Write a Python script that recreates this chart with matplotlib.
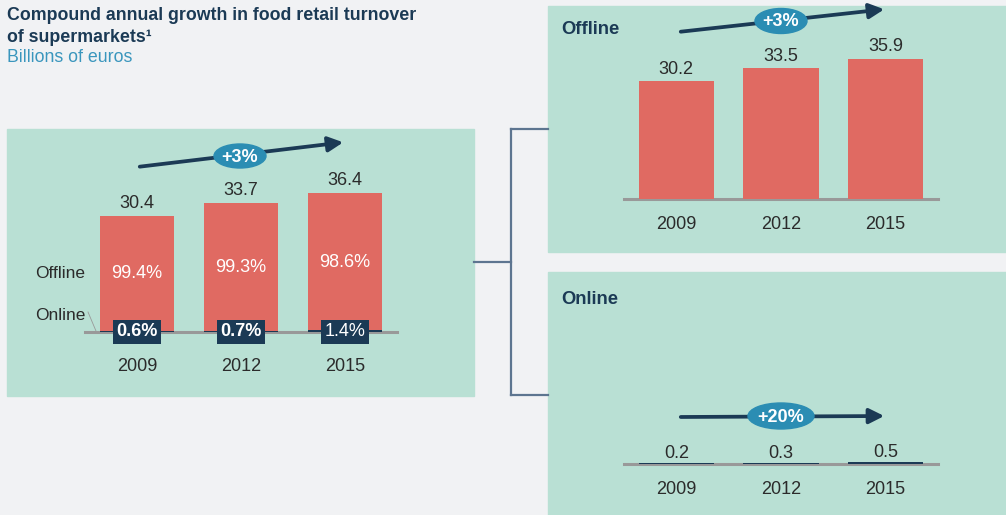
import numpy as np
import matplotlib
matplotlib.use("Agg")
import matplotlib.pyplot as plt
from matplotlib.patches import Rectangle, Ellipse, FancyArrowPatch

plt.rcParams['font.family'] = ['Liberation Sans', 'DejaVu Sans']

years = ['2009', '2012', '2015']
total = [30.4, 33.7, 36.4]
offline_share = ['99.4%', '99.3%', '98.6%']
online_share = ['0.6%', '0.7%', '1.4%']
online_share_val = [0.6, 0.7, 1.4]
offline = [30.2, 33.5, 35.9]
online = [0.2, 0.3, 0.5]

BG = '#f1f2f4'
PANEL = '#b9e0d4'
RED = '#e06a62'
NAVY = '#1b3a55'
BLUE = '#2b8db3'
GRAY = '#999999'
TXT = '#2b2b2b'

W, H = 1006, 515
fig = plt.figure(figsize=(W / 100, H / 100), dpi=100, facecolor=BG)

# overlay in pixel coordinates for panels and decorations
ov = fig.add_axes([0, 0, 1, 1])
ov.set_xlim(0, W)
ov.set_ylim(H, 0)
ov.axis('off')

ov.add_patch(Rectangle((7, 129), 467, 267, color=PANEL, zorder=0))
ov.add_patch(Rectangle((548, 6), 458, 246, color=PANEL, zorder=0))
ov.add_patch(Rectangle((548, 272), 458, 243, color=PANEL, zorder=0))

lc = '#5d7590'
ov.plot([474, 511], [262, 262], color=lc, lw=1.6)
ov.plot([511, 511], [129, 395], color=lc, lw=1.6)
ov.plot([511, 548], [129, 129], color=lc, lw=1.6)
ov.plot([511, 548], [395, 395], color=lc, lw=1.6)

ov.text(7, 16, 'Compound annual growth in food retail turnover', fontsize=12.8,
        fontweight='bold', color=NAVY, va='center', ha='left')
ov.text(7, 37, 'of supermarkets\u00b9', fontsize=12.8,
        fontweight='bold', color=NAVY, va='center', ha='left')
ov.text(7, 58, 'Billions of euros', fontsize=12.8, color='#3a96bd', va='center', ha='left')

ov.text(561, 30, 'Offline', fontsize=13.2, fontweight='bold', color=NAVY, va='center')
ov.text(561, 299, 'Online', fontsize=13.2, fontweight='bold', color=NAVY, va='center')

ov.text(35, 273, 'Offline', fontsize=12.5, color=TXT, va='center')
ov.text(35, 315, 'Online', fontsize=12.5, color=TXT, va='center')
ov.plot([88, 96], [312, 331], color=GRAY, lw=0.6)


def growth(x0, y0, x1, y1, cx, cy, ew, eh, label):
    ov.add_patch(FancyArrowPatch((x0, y0), (x1, y1), arrowstyle='-|>,head_length=6,head_width=3',
                                 color=NAVY, lw=2.7, mutation_scale=1.5, zorder=3))
    ov.add_patch(Ellipse((cx, cy), ew, eh, color=BLUE, zorder=4))
    ov.text(cx, cy + 1, label, fontsize=13, fontweight='bold', color='white',
            ha='center', va='center', zorder=5)


growth(137, 167, 346, 142, 240, 156, 52, 24, '+3%')
growth(678, 32, 887, 9, 781, 21, 52, 25, '+3%')
growth(678, 417, 887, 416, 781, 416, 66, 26, '+20%')


def px_axes(x0, y0, x1, y1):
    return fig.add_axes([x0 / W, 1 - y1 / H, (x1 - x0) / W, (y1 - y0) / H])


def style(ax, ymax, pad):
    ax.set_xlim(-0.5, 2.5)
    ax.set_ylim(0, ymax)
    ax.patch.set_alpha(0)
    for s in ['top', 'left', 'right']:
        ax.spines[s].set_visible(False)
    ax.spines['bottom'].set_color(GRAY)
    ax.spines['bottom'].set_linewidth(2.2)
    ax.spines['bottom'].set_zorder(1)
    ax.set_yticks([])
    ax.set_xticks(range(3))
    ax.set_xticklabels(years, fontsize=13, color=TXT)
    ax.tick_params(axis='x', length=0, pad=pad)


x = np.arange(3)
bw = 0.72

# left: total split into offline/online share
ax = px_axes(85, 132, 397, 332)
style(ax, 200 / 3.82, 19)
on_part = [t * s / 100 for t, s in zip(total, online_share_val)]
ax.bar(x, on_part, bw, color=NAVY, zorder=2)
ax.bar(x, [t - o for t, o in zip(total, on_part)], bw, bottom=on_part, color=RED, zorder=2)
for i in range(3):
    ax.text(x[i], total[i] + 1.1, f'{total[i]:.1f}', ha='center', va='bottom', fontsize=13, color=TXT)
    ax.text(x[i], total[i] * 0.5, offline_share[i], ha='center', va='center',
            fontsize=13, color='white', zorder=3)
    ax.text(x[i], 0, online_share[i], ha='center', va='center', fontsize=13,
            fontweight='bold' if i < 2 else 'normal', color='white', zorder=4,
            bbox=dict(boxstyle='square,pad=0.2', fc=NAVY, ec='none'))

# top right: offline
ax2 = px_axes(624, 20, 938, 199)
style(ax2, 179 / 3.9, 12)
ax2.bar(x, offline, bw, color=RED, zorder=2)
for i in range(3):
    ax2.text(x[i], offline[i] + 0.9, f'{offline[i]:.1f}', ha='center', va='bottom', fontsize=13, color=TXT)

# bottom right: online
ax3 = px_axes(624, 285, 938, 464)
style(ax3, 179 / 3.9, 12)
ax3.bar(x, online, bw, color=NAVY, zorder=2)
for i in range(3):
    ax3.text(x[i], online[i] + 0.25, f'{online[i]:.1f}', ha='center', va='bottom', fontsize=13, color=TXT)

fig.savefig('out.png', dpi=100, facecolor=BG)
